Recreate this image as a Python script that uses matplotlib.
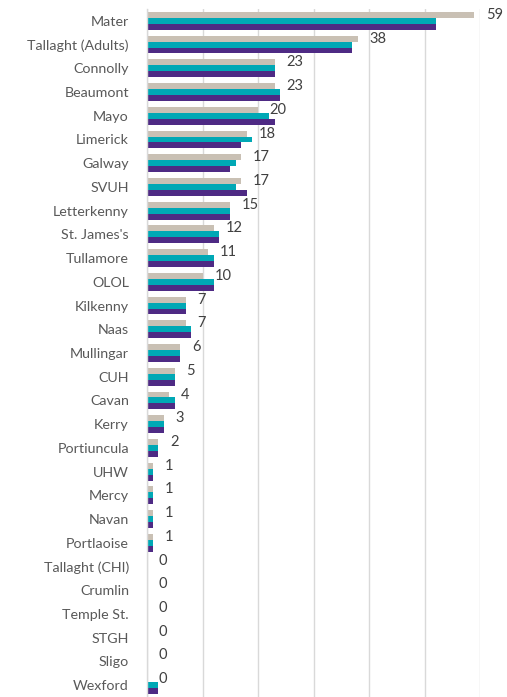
import matplotlib
matplotlib.use("Agg")
import matplotlib.pyplot as plt
import numpy as np

categories = ["Mater", "Tallaght (Adults)", "Connolly", "Beaumont", "Mayo", "Limerick",
              "Galway", "SVUH", "Letterkenny", "St. James's", "Tullamore", "OLOL",
              "Kilkenny", "Naas", "Mullingar", "CUH", "Cavan", "Kerry", "Portiuncula",
              "UHW", "Mercy", "Navan", "Portlaoise", "Tallaght (CHI)", "Crumlin",
              "Temple St.", "STGH", "Sligo", "Wexford"]
series_gray = [59, 38, 23, 23, 20, 18, 17, 17, 15, 12, 11, 10, 7, 7, 6, 5, 4, 3, 2,
               1, 1, 1, 1, 0, 0, 0, 0, 0, 0]
series_teal = [52, 37, 23, 24, 22, 19, 16, 16, 15, 13, 12, 12, 7, 8, 6, 5, 5, 3, 2,
               1, 1, 1, 1, 0, 0, 0, 0, 0, 2]
series_purple = [52, 37, 23, 24, 23, 17, 15, 18, 15, 13, 12, 12, 7, 8, 6, 5, 5, 3, 2,
                 1, 1, 1, 1, 0, 0, 0, 0, 0, 2]

plt.rcParams['font.family'] = ['Lato', 'DejaVu Sans']

fig = plt.figure(figsize=(5.07, 6.97), dpi=100)
ax = fig.add_axes([147/507, 0.0, (480-147)/507, 1 - 9/697])

n = len(categories)
y = np.arange(n)
h = 0.25
c_gray = "#C9C0B4"
c_teal = "#00A8B5"
c_purple = "#4E2A84"

ax.barh(y - h, series_gray, height=h, color=c_gray, zorder=3)
ax.barh(y, series_teal, height=h, color=c_teal, zorder=3)
ax.barh(y + h, series_purple, height=h, color=c_purple, zorder=3)

for yi, v in zip(y, series_gray):
    ax.annotate(str(v), xy=(v, yi - h), xytext=(8.5, 0), textcoords="offset points",
                ha="left", va="center", fontsize=10.5, color="#404040",
                annotation_clip=False)

ax.set_xlim(0, 60)
ax.set_ylim(n - 0.5, -0.5)
ax.set_yticks(y)
ax.set_yticklabels(categories, fontsize=10.3, color="#595959")
ax.tick_params(axis='y', length=0, pad=13)
ax.set_xticks(np.arange(0, 61, 10))
ax.tick_params(axis='x', length=0, labelbottom=False)
ax.grid(axis='x', color="#D9D9D9", linewidth=1, zorder=0)
for s in ["top", "right", "bottom"]:
    ax.spines[s].set_visible(False)
ax.spines["left"].set_color("#D9D9D9")
ax.spines["left"].set_linewidth(1)
ax.spines["left"].set_zorder(4)

fig.savefig("out.png", dpi=100)
